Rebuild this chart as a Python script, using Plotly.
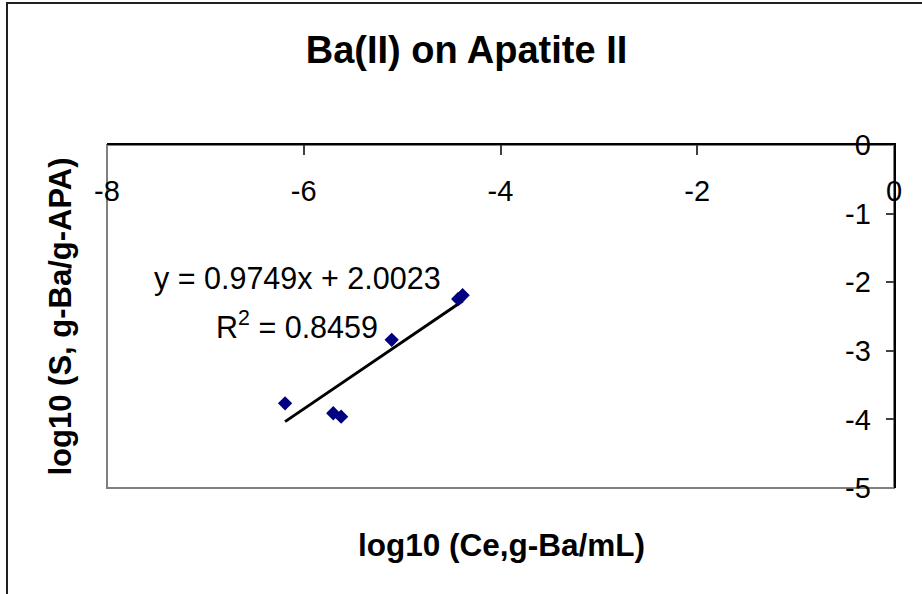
import plotly.graph_objects as go

# Data
log_ce = [-6.19, -5.70, -5.62, -5.106, -4.43, -4.385]
log_s = [-3.765, -3.91, -3.96, -2.84, -2.245, -2.19]

slope = 0.9749
intercept = 2.0023
r2 = 0.8459

x_ticks = [-8, -6, -4, -2, 0]
y_ticks = [0, -1, -2, -3, -4, -5]

FONT = "Liberation Sans, Arial, sans-serif"

trend_x = [min(log_ce), max(log_ce)]
trend_y = [slope * v + intercept for v in trend_x]

fig = go.Figure()
fig.add_trace(go.Scatter(x=trend_x, y=trend_y, mode="lines",
                         line=dict(color="black", width=3), showlegend=False,
                         hoverinfo="skip"))
fig.add_trace(go.Scatter(x=log_ce, y=log_s, mode="markers",
                         marker=dict(symbol="diamond", size=11, color="#000080"),
                         showlegend=False))

fig.update_layout(
    width=922, height=594,
    margin=dict(l=107, r=28, t=145, b=106),
    paper_bgcolor="white", plot_bgcolor="white",
    font=dict(family=FONT, color="black"),
    title=dict(text="Ba(II) on Apatite II", x=466.5 / 922, xanchor="center",
               y=1 - 50 / 594, yanchor="middle",
               font=dict(family=FONT, size=38, weight="bold", color="black")),
    xaxis=dict(range=[-8, 0], side="top", tickvals=x_ticks,
               ticktext=[str(v) for v in x_ticks],
               showline=True, linecolor="black", linewidth=2,
               ticks="inside", ticklen=10, tickwidth=1.5, tickcolor="#404040",
               ticklabelposition="inside", ticklabeloverflow="allow",
               ticklabelstandoff=29,
               tickfont=dict(family=FONT, size=29, color="black"),
               showgrid=False, zeroline=False, fixedrange=True),
    yaxis=dict(range=[-5, 0], side="right", tickvals=y_ticks,
               ticktext=[str(v) for v in y_ticks],
               showline=True, linecolor="black", linewidth=2,
               ticks="inside", ticklen=8, tickwidth=1.5, tickcolor="#404040",
               ticklabelposition="inside", ticklabeloverflow="allow",
               ticklabelstandoff=18,
               tickfont=dict(family=FONT, size=29, color="black"),
               showgrid=False, zeroline=False, fixedrange=True),
    shapes=[
        # plot-area border (gray)
        dict(type="rect", xref="paper", yref="paper", x0=0, x1=1, y0=0, y1=1,
             line=dict(color="#808080", width=2), layer="below"),
        # chart-area border
        dict(type="rect", xref="paper", yref="paper",
             x0=(7 - 107) / 787, x1=1.3, y0=-0.6, y1=(488 - 3) / 343,
             line=dict(color="#202020", width=2), layer="below"),
    ],
    annotations=[
        dict(text="log10 (Ce,g-Ba/mL)", xref="paper", yref="paper",
             x=(501 - 107) / 787, y=(488 - 545) / 343,
             xanchor="center", yanchor="middle", showarrow=False,
             font=dict(family=FONT, size=31.5, weight="bold", color="black")),
        dict(text="log10 (S, g-Ba/g-APA)", xref="paper", yref="paper",
             x=(60 - 107) / 787, y=0.5, xanchor="center", yanchor="middle",
             textangle=-90, showarrow=False,
             font=dict(family=FONT, size=31, weight="bold", color="black")),
        dict(text=f"y = {slope}x + {intercept}", xref="x", yref="y",
             x=-6.065, y=-1.94, xanchor="center", yanchor="middle",
             showarrow=False,
             font=dict(family=FONT, size=30.5, color="black")),
        dict(text=f"R<sup>2</sup> = {r2}", xref="x", yref="y",
             x=-6.07, y=-2.62, xanchor="center", yanchor="middle",
             showarrow=False,
             font=dict(family=FONT, size=30.5, color="black")),
    ],
)

fig.write_html("out.html")
